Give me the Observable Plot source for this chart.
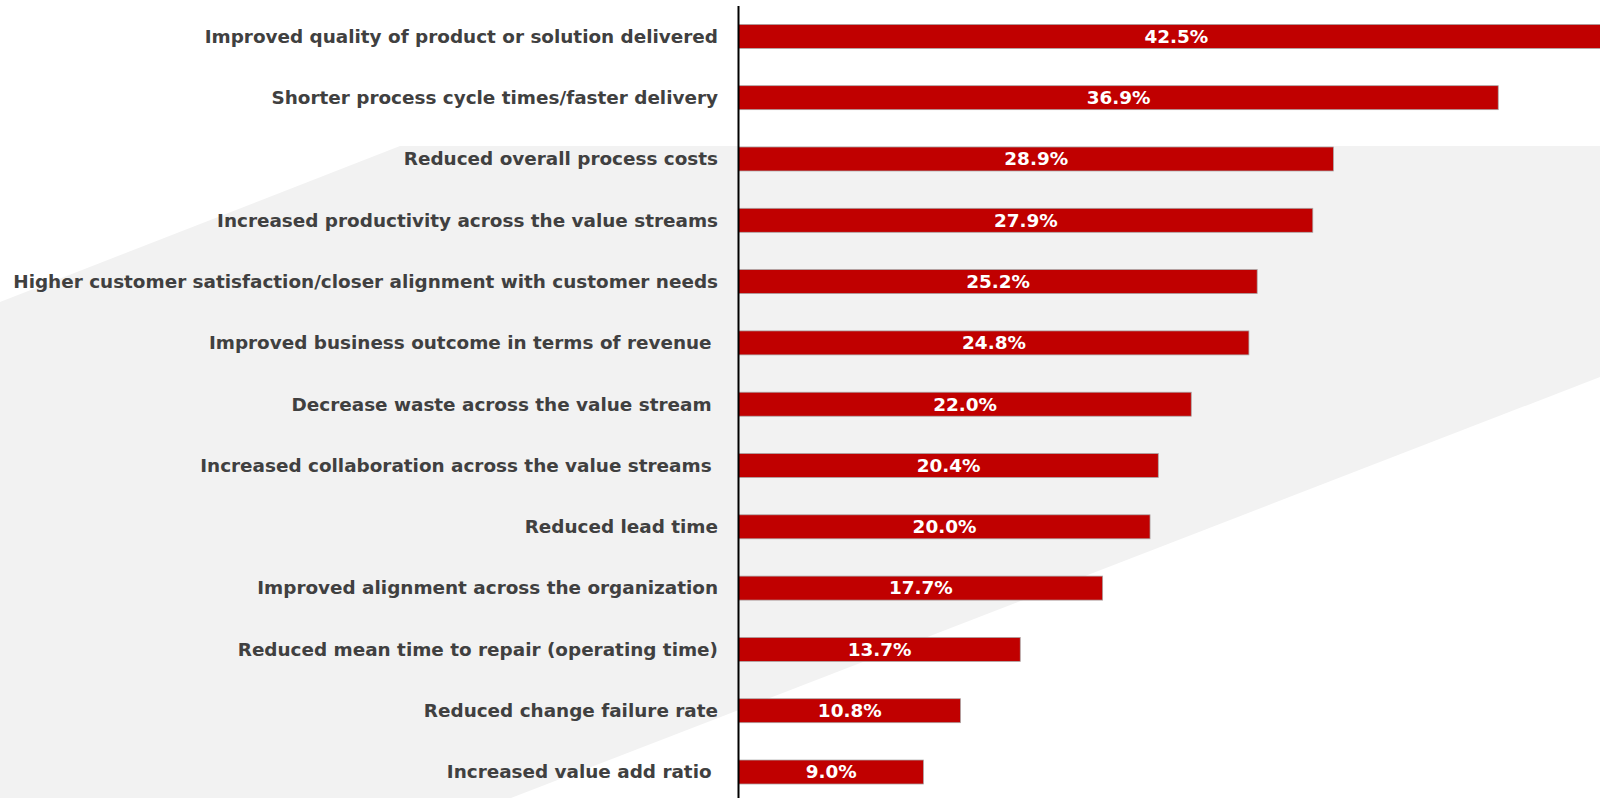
<!DOCTYPE html>
<html>
<head>
<meta charset="utf-8">
<script src="https://cdn.jsdelivr.net/npm/d3@7"></script>
<script src="https://cdn.jsdelivr.net/npm/@observablehq/plot@0.6"></script>
<style>
  html, body { margin: 0; padding: 0; background: #ffffff; overflow: hidden; }
  #wrap { position: relative; width: 1600px; height: 798px; }
  #bg { position: absolute; left: 0; top: 0; width: 1600px; height: 798px; background: #f2f2f2;
        clip-path: polygon(0px 302px, 400px 146px, 1600px 146px, 1600px 377px, 511px 798px, 0px 798px); }
  #chart { position: absolute; left: 0; top: 0; }
  #chart svg text { white-space: pre; }
</style>
</head>
<body>
<div id="wrap"><div id="bg"></div><div id="chart"></div></div>
<script>
const categories = [
  "Improved quality of product or solution delivered",
  "Shorter process cycle times/faster delivery",
  "Reduced overall process costs",
  "Increased productivity across the value streams",
  "Higher customer satisfaction/closer alignment with customer needs",
  "Improved business outcome in terms of revenue ",
  "Decrease waste across the value stream ",
  "Increased collaboration across the value streams ",
  "Reduced lead time",
  "Improved alignment across the organization",
  "Reduced mean time to repair (operating time)",
  "Reduced change failure rate",
  "Increased value add ratio "
];
const values = [42.5, 36.9, 28.9, 27.9, 25.2, 24.8, 22.0, 20.4, 20.0, 17.7, 13.7, 10.8, 9.0];
const valueLabels = ["42.5%", "36.9%", "28.9%", "27.9%", "25.2%", "24.8%", "22.0%", "20.4%", "20.0%", "17.7%", "13.7%", "10.8%", "9.0%"];

const data = categories.map((c, i) => ({category: c, value: values[i], label: valueLabels[i]}));

const chart = Plot.plot({
  width: 1600,
  height: 798,
  marginLeft: 738,
  marginRight: 0,
  marginTop: 6,
  marginBottom: 0,
  style: {background: "transparent", fontFamily: "'DejaVu Sans', sans-serif", overflow: "visible"},
  x: {domain: [0, 41.84], axis: null},
  y: {domain: categories, range: [5.75, 802.65], paddingInner: 0.6085, paddingOuter: 0.304, round: false, axis: null},
  marks: [
    Plot.barX(data, {x: "value", y: "category", fill: "#c00000", stroke: "#a8a8a8", strokeWidth: 0.75, clip: true}),
    Plot.ruleX([0], {stroke: "#000000", strokeWidth: 2}),
    Plot.text(data, {x: 0, y: "category", text: "category", textAnchor: "end", dx: -20.5,
      fill: "#404040", fontSize: 18.4, fontWeight: "bold"}),
    Plot.text(data, {x: d => d.value / 2, y: "category", text: "label",
      fill: "#ffffff", fontSize: 18.4, fontWeight: "bold"})
  ]
});
document.getElementById("chart").appendChild(chart);
</script>
</body>
</html>
